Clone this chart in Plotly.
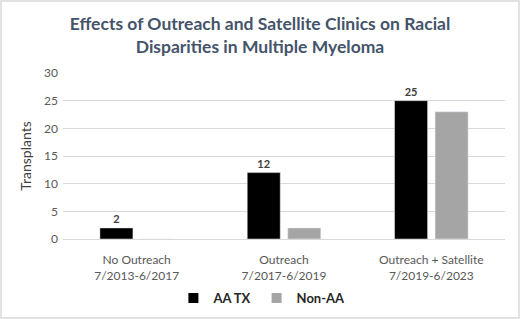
import plotly.graph_objects as go

categories = ["No Outreach<br>7/2013-6/2017", "Outreach<br>7/2017-6/2019", "Outreach + Satellite<br>7/2019-6/2023"]
aa_tx = [2, 12, 25]
non_aa = [0, 2, 23]
y_ticks = [0, 5, 10, 15, 20, 25, 30]

W, H = 520, 319
L, R, T, B = 63, 15, 73, 80
pw, ph = W - L - R, H - T - B

fig = go.Figure()
fig.add_trace(go.Bar(
    x=categories, y=aa_tx, name="AA TX", marker_color="#000000", showlegend=False,
    text=[str(v) for v in aa_tx], textposition="outside", cliponaxis=False,
    textfont=dict(family="Lato", size=11, color="#404040", weight="bold"),
))
fig.add_trace(go.Bar(
    x=categories, y=non_aa, name="Non-AA", marker_color="#a5a5a5", showlegend=False,
))
# legend entries
fig.add_trace(go.Scatter(x=[None], y=[None], mode="markers", name="AA TX",
                         marker=dict(symbol="square", size=10, color="#000000")))
fig.add_trace(go.Scatter(x=[None], y=[None], mode="markers", name="Non-AA",
                         marker=dict(symbol="square", size=10, color="#a5a5a5")))

fig.update_layout(
    width=W, height=H,
    margin=dict(l=L, r=R, t=T, b=B, autoexpand=False),
    paper_bgcolor="white", plot_bgcolor="white",
    barmode="group", bargap=0.45, bargroupgap=0.185,
    font=dict(family="Lato", color="#595959", size=12),
    title=dict(
        text="<b>Effects of Outreach and Satellite Clinics on Racial<br>Disparities in Multiple Myeloma</b>",
        x=0.5, xanchor="center", y=0.905, yanchor="top",
        font=dict(family="Lato", size=17.5, color="#44546a"),
    ),
    xaxis=dict(showgrid=False, showline=True, linecolor="#d9d9d9", ticks="",
               automargin=False, ticklabelstandoff=10,
               tickfont=dict(size=12, color="#595959")),
    yaxis=dict(range=[0, 30], tickvals=y_ticks, showgrid=True, gridcolor="#d9d9d9",
               zeroline=False, showline=False, ticks="", automargin=False,
               ticklabelstandoff=4,
               tickfont=dict(size=12, color="#595959"),
               title=dict(text="Transplants", font=dict(size=14, color="#404040"), standoff=9)),
    legend=dict(orientation="h", x=0.45, xanchor="center", y=-0.355, yanchor="middle",
                font=dict(size=13, color="#262626", weight="bold"), itemwidth=30,
                traceorder="normal"),
    shapes=[dict(type="rect", xref="paper", yref="paper",
                 x0=(-L + 1) / pw, x1=1 + (R - 1) / pw,
                 y0=(-B + 1) / ph, y1=1 + (T - 1) / ph,
                 line=dict(color="#d9d9d9", width=1.5), fillcolor="rgba(0,0,0,0)", layer="below")],
)

fig.write_html("out.html", config={"displayModeBar": False},
               post_script="document.body.style.margin='0';")
